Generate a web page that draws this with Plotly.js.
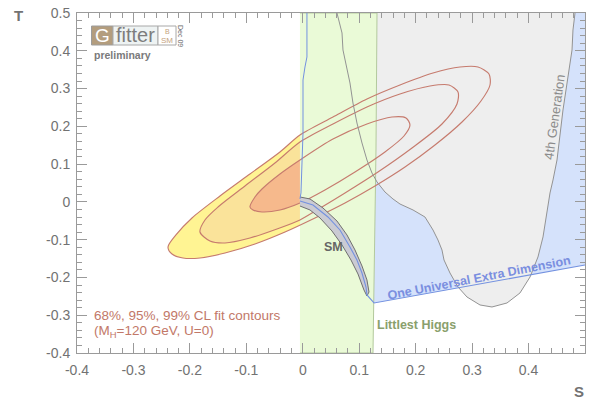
<!DOCTYPE html>
<html>
<head>
<meta charset="utf-8">
<script src="https://cdn.plot.ly/plotly-3.0.1.min.js"></script>
<style>
  html, body { margin: 0; padding: 0; background: #ffffff; }
  #chart { width: 594px; height: 403px; }
</style>
</head>
<body>
<div id="chart"></div>
<script>
// Oblique parameters S and T: fit contours and model predictions

// 68%, 95%, 99% CL fit contours (S, T)
const cl99S = [-0.2388,-0.2247,-0.1963,-0.1467,-0.0936,-0.0404,-0.0050,0.0535,0.1137,0.1722,0.2307,0.2785,0.3104,0.3299,0.3317,0.3157,0.2821,0.2342,0.1811,0.1279,0.0748,0.0216,-0.0315,-0.0847,-0.1378,-0.1821,-0.2123,-0.2317];
const cl99T = [-0.1194,-0.0876,-0.0426,0.0156,0.0738,0.1321,0.1771,0.2247,0.2724,0.3094,0.3412,0.3571,0.3571,0.3385,0.3094,0.2671,0.2115,0.1506,0.0924,0.0421,-0.0029,-0.0426,-0.0797,-0.1114,-0.1353,-0.1485,-0.1485,-0.1379];

const cl95S = [-0.1821,-0.1733,-0.1502,-0.1024,-0.0493,-0.0050,0.0535,0.1137,0.1722,0.2254,0.2590,0.2750,0.2732,0.2466,0.1935,0.1332,0.0748,0.0340,-0.0050,-0.0457,-0.0936,-0.1378,-0.1644];
const cl95T = [-0.0797,-0.0479,-0.0135,0.0421,0.1030,0.1585,0.2062,0.2512,0.2856,0.3068,0.3094,0.2909,0.2591,0.2062,0.1427,0.0791,0.0236,-0.0135,-0.0479,-0.0717,-0.0956,-0.1088,-0.1035];

const cl68S = [-0.0936,-0.0847,-0.0723,-0.0404,-0.0050,0.0535,0.1137,0.1580,0.1829,0.1899,0.1793,0.1456,0.0925,0.0393,-0.0050,-0.0404,-0.0723,-0.0882];
const cl68T = [-0.0135,0.0130,0.0341,0.0738,0.1109,0.1665,0.2062,0.2247,0.2221,0.2035,0.1744,0.1321,0.0791,0.0315,-0.0029,-0.0214,-0.0267,-0.0214];

// 4th generation allowed region (boundary, top edge open)
const gen4S = [0.0606,0.0695,0.0712,0.0783,0.0836,0.0889,0.0960,0.1049,0.1137,0.1226,0.1315,0.1456,0.1598,0.1722,0.1953,0.2165,0.2307,0.2395,0.2466,0.2502,0.2608,0.2750,0.2909,0.3140,0.3352,0.3618,0.3848,0.4026,0.4167,0.4256,0.4327,0.4380,0.4433,0.4504,0.4610,0.4699,0.4770,0.4787,0.4823];
const gen4T = [0.5000,0.4471,0.4021,0.3571,0.3147,0.2618,0.2088,0.1559,0.1109,0.0765,0.0527,0.0262,0.0077,-0.0056,-0.0214,-0.0400,-0.0744,-0.1008,-0.1273,-0.1538,-0.1882,-0.2253,-0.2517,-0.2729,-0.2782,-0.2676,-0.2411,-0.1988,-0.1458,-0.0929,-0.0294,0.0236,0.0580,0.1109,0.2433,0.3306,0.4021,0.4550,0.5000];

// One Universal Extra Dimension: left edge, SM line, lower edge
const uedLeftS = [0.0074,0.0074,0.0074,0.0039,0.0004,0.0004,-0.0014,-0.0032,-0.0050];
const uedLeftT = [0.5000,0.4285,0.3835,0.3571,0.3227,0.1824,0.0765,0.0236,0.0077];
const smLineS = [-0.0050,0.0181,0.0446,0.0659,0.0836,0.0960,0.1049,0.1120,0.1137];
const smLineT = [0.0024,-0.0082,-0.0400,-0.0744,-0.1194,-0.1538,-0.1882,-0.2253,-0.2464];
const uedLowS = [0.1137,0.1262,0.5000];
const uedLowT = [-0.2464,-0.2676,-0.1670];

// SM band (M_H variation)
const smBandS = [-0.0050,0.0128,0.0358,0.0606,0.0783,0.0925,0.1049,0.1137,0.1173,0.1137,0.1084,0.0978,0.0854,0.0695,0.0517,0.0305,0.0128,-0.0050];
const smBandT = [0.0130,0.0077,-0.0161,-0.0506,-0.0876,-0.1273,-0.1697,-0.2067,-0.2385,-0.2491,-0.2332,-0.1908,-0.1538,-0.1141,-0.0770,-0.0426,-0.0214,-0.0109];

// Littlest Higgs band
const lhS = [-0.0050,0.1315,0.1297,0.1279,0.1262,0.1244,-0.0050];
const lhT = [0.5000,0.5000,0.1374,-0.0214,-0.2067,-0.4000,-0.4000];

// Axis ticks
const tickVals = [-0.4,-0.3,-0.2,-0.1,0,0.1,0.2,0.3,0.4,0.5];
const tickText = ['-0.4','-0.3','-0.2','-0.1','0','0.1','0.2','0.3','0.4','0.5'];

// ---- drawing ----
const W = 594, H = 403;
const M = {l: 77, r: 9, t: 13, b: 50};
const PX = x => (x - M.l) / (W - M.l - M.r);
const PY = y => (H - M.b - y) / (H - M.t - M.b);

const FONT = 'Liberation Sans, Arial, Helvetica, sans-serif';
const contourColor = '#c67b6e';
const uedBlue = '#7391e0';

function closeLoop(a) { return a.concat([a[0]]); }

function fillTrace(xs, ys, color, spline) {
  return {x: xs, y: ys, type: 'scatter', mode: 'lines', fill: 'toself', fillcolor: color,
          line: {width: 0, shape: spline ? 'spline' : 'linear', smoothing: 0.8},
          hoverinfo: 'skip', showlegend: false};
}
function lineTrace(xs, ys, color, width, spline) {
  return {x: xs, y: ys, type: 'scatter', mode: 'lines',
          line: {color: color, width: width, shape: spline ? 'spline' : 'linear', smoothing: 0.8},
          hoverinfo: 'skip', showlegend: false};
}

const traces = [
  fillTrace(closeLoop(cl99S), closeLoop(cl99T), '#fff493', true),
  fillTrace(closeLoop(cl95S), closeLoop(cl95T), '#fae39a', true),
  fillTrace(closeLoop(cl68S), closeLoop(cl68T), '#f6b98c', true),
  fillTrace(uedLeftS.concat(smLineS, uedLowS, [0.5]), uedLeftT.concat(smLineT, uedLowT, [0.5]), '#d5e2fb', false),
  fillTrace(gen4S, gen4T, '#eeeeee', false),
  {x: lhS, y: lhT, type: 'scatter', mode: 'lines', fill: 'toself', fillcolor: '#eafad7',
   line: {color: '#b3c99d', width: 1}, hoverinfo: 'skip', showlegend: false},
  lineTrace(closeLoop(cl99S), closeLoop(cl99T), contourColor, 1.15, true),
  lineTrace(closeLoop(cl95S), closeLoop(cl95T), contourColor, 1.15, true),
  lineTrace(closeLoop(cl68S), closeLoop(cl68T), contourColor, 1.15, true),
  lineTrace(gen4S, gen4T, '#939393', 1, false),
  {x: smBandS, y: smBandT, type: 'scatter', mode: 'lines', fill: 'toself', fillcolor: '#cbcbd3',
   line: {color: '#707070', width: 1}, hoverinfo: 'skip', showlegend: false},
  lineTrace(uedLeftS, uedLeftT, uedBlue, 1, false),
  lineTrace(smLineS.concat(uedLowS), smLineT.concat(uedLowT), uedBlue, 1.1, false)
];

function ann(text, x, y, opts) {
  return Object.assign({text: text, xref: 'paper', yref: 'paper', x: PX(x), y: PY(y),
    showarrow: false, xanchor: 'center', yanchor: 'middle',
    font: {family: FONT, size: 13, color: '#777777'}}, opts || {});
}

const axisCommon = {
  range: [-0.4, 0.5], tickmode: 'array', tickvals: tickVals, ticktext: tickText,
  ticks: 'inside', ticklen: 10, tickwidth: 1, tickcolor: '#9a9a9a',
  showline: true, linecolor: '#9a9a9a', linewidth: 1, mirror: 'ticks',
  showgrid: false, zeroline: false,
  minor: {tickmode: 'linear', tick0: -0.4, dtick: 0.02, ticks: 'inside', ticklen: 5, tickcolor: '#9a9a9a', showgrid: false},
  tickfont: {family: FONT, size: 14, color: '#727272'}
};

const layout = {
  width: W, height: H, margin: M,
  paper_bgcolor: '#ffffff', plot_bgcolor: '#ffffff',
  showlegend: false,
  xaxis: Object.assign({}, axisCommon, {ticklabelstandoff: 4}),
  yaxis: Object.assign({}, axisCommon, {ticklabelstandoff: 3}),
  shapes: [
    {type: 'rect', xref: 'paper', yref: 'paper', x0: PX(91.5), x1: PX(113), y0: PY(45), y1: PY(26),
     fillcolor: '#b39d7e', line: {color: '#9c9c9c', width: 1}},
    {type: 'rect', xref: 'paper', yref: 'paper', x0: PX(113), x1: PX(158), y0: PY(45), y1: PY(26),
     fillcolor: '#eef3f3', line: {color: '#a8a8a8', width: 1}},
    {type: 'rect', xref: 'paper', yref: 'paper', x0: PX(158), x1: PX(176), y0: PY(45), y1: PY(26),
     fillcolor: '#ffffff', line: {color: '#a8a8a8', width: 1}}
  ],
  annotations: [
    ann('<b>S</b>', 579, 391, {font: {family: FONT, size: 15, color: '#727272'}}),
    ann('<b>T</b>', 18, 16, {font: {family: FONT, size: 15, color: '#727272'}}),
    ann('G', 102.3, 35.5, {font: {family: FONT, size: 19, color: '#ffffff'}}),
    ann('fitter', 135.5, 35, {font: {family: FONT, size: 20, color: '#7d7d7d'}}),
    ann('B', 167, 31, {font: {family: FONT, size: 7, color: '#c4a37e'}}),
    ann('SM', 167, 40, {font: {family: FONT, size: 8, color: '#c4a37e'}}),
    ann('Dec 09', 180.5, 35.5, {textangle: 90, font: {family: FONT, size: 7, color: '#666666'}}),
    ann('<b>preliminary</b>', 92, 55, {xanchor: 'left', font: {family: FONT, size: 10.5, color: '#7a7a7a'}}),
    ann('<b>SM</b>', 333, 247, {font: {family: FONT, size: 12.5, color: '#666666'}}),
    ann('<b>Littlest Higgs</b>', 375, 325, {xanchor: 'left', font: {family: FONT, size: 12.5, color: '#8aa06c'}}),
    ann('<b>One Universal Extra Dimension</b>', 479, 278, {textangle: -11, font: {family: FONT, size: 12.5, color: '#7a8fe0'}}),
    ann('4th Generation', 554, 117, {textangle: -82, font: {family: FONT, size: 13, color: '#8a8a8a'}}),
    ann('68%, 95%, 99% CL fit contours', 92, 315, {xanchor: 'left', font: {family: FONT, size: 13.5, color: '#c27868'}}),
    ann('(M<sub>H</sub>=120 GeV, U=0)', 92, 331, {xanchor: 'left', font: {family: FONT, size: 13.5, color: '#c27868'}})
  ]
};

Plotly.newPlot('chart', traces, layout, {staticPlot: true, displayModeBar: false});
</script>
</body>
</html>
